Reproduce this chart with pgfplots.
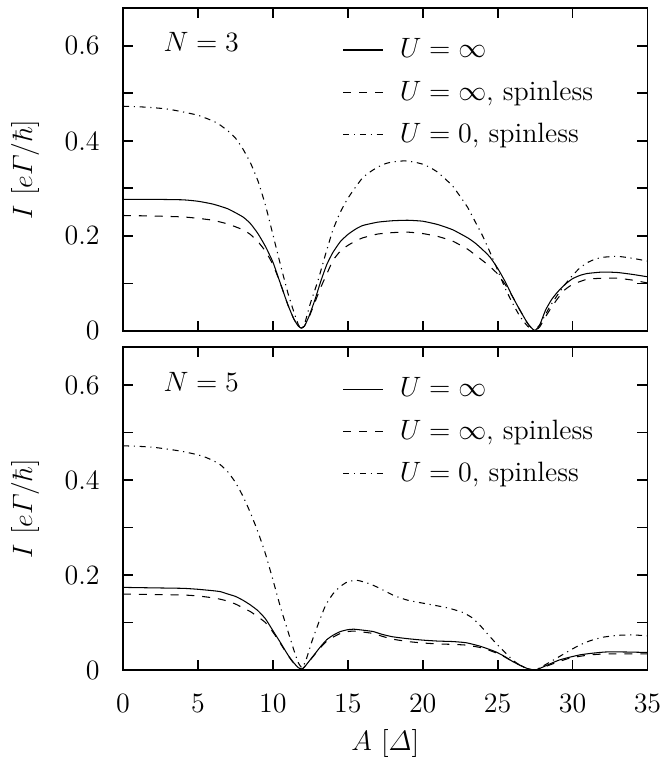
\documentclass[border=0pt]{standalone}
\usepackage{amsmath}
\usepackage{pgfplots}
\usepackage{pgfplotstable}
\pgfplotsset{compat=1.18}
\usepgfplotslibrary{groupplots}

% N = 3, U = infinity
\pgfplotstableread{
x y
0 0.277
2 0.277
4 0.276
5 0.273
6 0.267
7 0.257
8 0.240
8.5 0.226
9 0.205
9.5 0.178
10 0.145
10.5 0.100
11 0.055
11.4 0.025
11.7 0.010
11.9 0.006
12.1 0.010
12.4 0.030
12.8 0.065
13.2 0.105
13.6 0.140
14 0.165
14.5 0.188
15 0.203
15.5 0.214
16 0.222
17 0.229
18 0.232
19 0.233
20 0.231
21 0.224
22 0.213
23 0.196
23.5 0.185
24 0.171
24.5 0.155
25 0.132
25.5 0.104
26 0.072
26.5 0.043
27 0.016
27.3 0.005
27.5 0.001
27.8 0.012
28.2 0.044
28.6 0.066
29 0.082
29.5 0.098
30 0.110
30.5 0.117
31 0.121
32 0.124
33 0.123
34 0.119
35 0.114
}\topsolid

% N = 3, U = infinity, spinless
\pgfplotstableread{
x y
0 0.243
2 0.242
4 0.240
5 0.237
6 0.233
7 0.225
8 0.213
8.5 0.203
9 0.188
9.5 0.168
10 0.140
10.5 0.100
11 0.055
11.4 0.025
11.7 0.010
11.9 0.006
12.1 0.010
12.4 0.028
12.8 0.060
13.2 0.092
13.6 0.120
14 0.148
14.5 0.168
15 0.180
15.5 0.189
16 0.196
17 0.204
18 0.207
19 0.208
20 0.205
21 0.199
22 0.189
23 0.172
23.5 0.160
24 0.148
24.5 0.135
25 0.120
25.5 0.098
26 0.072
26.5 0.043
27 0.016
27.3 0.005
27.5 0.001
27.8 0.008
28.2 0.030
28.6 0.050
29 0.068
29.5 0.087
30 0.098
30.5 0.104
31 0.109
32 0.111
33 0.111
34 0.107
35 0.101
}\topdashed

% N = 3, U = 0, spinless
\pgfplotstableread{
x y
0 0.473
1 0.472
2 0.470
3 0.467
4 0.461
5 0.454
6 0.442
6.5 0.433
7 0.421
7.5 0.406
8 0.383
8.5 0.354
9 0.316
9.5 0.265
10 0.203
10.5 0.140
11 0.080
11.4 0.040
11.7 0.013
11.9 0.005
12.1 0.013
12.5 0.058
13 0.105
13.5 0.160
14 0.212
14.5 0.250
15 0.279
15.5 0.302
16 0.323
16.5 0.335
17 0.345
17.5 0.352
18 0.356
18.8 0.358
19.5 0.355
20 0.351
20.5 0.344
21 0.334
21.5 0.320
22 0.305
22.5 0.283
23 0.260
23.5 0.230
24 0.200
24.5 0.165
25 0.128
25.5 0.090
26 0.058
26.5 0.030
27 0.010
27.4 0.002
27.8 0.012
28.2 0.035
28.5 0.052
29 0.076
29.5 0.098
30 0.117
30.5 0.133
31 0.144
31.5 0.151
32 0.155
33 0.157
34 0.153
35 0.147
}\topdashdot

% N = 5, U = infinity
\pgfplotstableread{
x y
0 0.174
2 0.173
4 0.172
5 0.170
6 0.167
6.5 0.165
7 0.160
7.5 0.155
8 0.147
8.5 0.137
9 0.125
9.5 0.108
10 0.083
10.5 0.058
11 0.032
11.4 0.015
11.7 0.005
11.95 0.002
12.2 0.010
12.7 0.030
13.2 0.050
13.6 0.064
14 0.073
14.5 0.081
15 0.085
15.4 0.086
16 0.084
16.7 0.081
17.3 0.075
18 0.070
19 0.066
20 0.063
21 0.061
22 0.060
22.9 0.0575
23.8 0.0505
24.4 0.044
24.9 0.038
25.5 0.028
26 0.018
26.5 0.010
27 0.003
27.5 0.000
28 0.006
28.5 0.013
29.1 0.021
29.8 0.027
30.5 0.032
31.2 0.035
32.2 0.038
33.5 0.038
35 0.037
}\botsolid

% N = 5, U = infinity, spinless
\pgfplotstableread{
x y
0 0.160
2 0.159
4 0.158
5 0.156
6 0.152
6.5 0.149
7 0.145
7.5 0.139
8 0.131
8.5 0.123
9 0.112
9.5 0.100
10 0.080
10.5 0.056
11 0.031
11.4 0.014
11.7 0.005
11.95 0.002
12.2 0.010
12.7 0.029
13.2 0.048
13.6 0.061
14 0.069
14.5 0.077
15 0.081
15.4 0.082
16 0.080
16.7 0.077
17.3 0.071
18 0.065
19 0.060
20 0.057
21 0.055
22 0.054
22.9 0.0525
23.8 0.0477
24.4 0.042
24.9 0.036
25.5 0.027
26 0.018
26.5 0.010
27 0.003
27.5 0.000
28 0.005
28.5 0.011
29.1 0.018
29.8 0.025
30.5 0.029
31.2 0.032
32.2 0.034
33.5 0.034
35 0.034
}\botdashed

% N = 5, U = 0, spinless
\pgfplotstableread{
x y
0 0.472
1 0.471
2 0.469
3 0.465
4 0.460
5 0.453
5.5 0.448
6 0.441
6.5 0.432
7 0.417
7.5 0.395
8 0.366
8.5 0.331
9 0.291
9.5 0.245
10 0.190
10.5 0.133
11 0.082
11.4 0.042
11.7 0.015
11.95 0.005
12.2 0.020
12.6 0.060
13 0.095
13.5 0.135
14 0.160
14.5 0.176
15 0.186
15.6 0.189
16 0.186
16.5 0.181
17 0.174
17.5 0.166
18 0.158
18.5 0.152
19 0.147
19.8 0.142
20.5 0.138
21.5 0.132
22 0.128
22.7 0.121
23.3 0.110
23.8 0.095
24.3 0.077
24.9 0.056
25.5 0.037
26 0.021
26.5 0.010
27 0.003
27.5 0.000
28 0.008
28.5 0.017
29.1 0.028
29.8 0.041
30.5 0.053
31.2 0.062
32 0.069
33 0.073
34 0.074
35 0.072
}\botdashdot

\begin{document}
\begin{tikzpicture}[font=\fontsize{12}{14.4}\selectfont]
  \begin{groupplot}[
    group style={group size=1 by 2, vertical sep=6.9pt,
      xticklabels at=edge bottom, xlabels at=edge bottom},
    scale only axis,
    width=225pt, height=138.6pt,
    xmin=0, xmax=35, ymin=0, ymax=0.68,
    xtick={0,5,10,15,20,25,30,35},
    ytick={0,0.1,0.2,0.3,0.4,0.5,0.6},
    yticklabels={0,,0.2,,0.4,,0.6},
    tick align=inside, tick pos=both,
    major tick length=4.3pt,
    axis line style={line width=0.8pt},
    every tick/.style={line width=0.8pt, black},
    yticklabel style={xshift=-6.5pt},
    xticklabel style={yshift=-7pt},
    ylabel={$I$ [$e\varGamma/\hbar$]},
    ylabel style={at={(axis description cs:-0.1867,0.5)}, anchor=center},
    legend style={draw=none, fill=none, anchor=north west,
      at={(axis description cs:0.405,0.935)}, row sep=4.4pt},
    legend cell align=left,
    legend image code/.code={\draw[#1] (0pt,0pt) -- (17pt,0pt); \path (22pt,0pt);},
    every axis plot/.append style={line width=0.45pt, black, smooth, tension=0.3},
    solid line/.style={solid},
    dash line/.style={dash pattern=on 3.4pt off 3.4pt},
    dashdot line/.style={dash pattern=on 2.6pt off 2pt on 0.5pt off 2pt},
  ]
    \nextgroupplot
    \addplot[solid line] table {\topsolid};
    \addlegendentry{$U=\infty$}
    \addplot[dash line] table {\topdashed};
    \addlegendentry{$U=\infty$, spinless}
    \addplot[dashdot line] table {\topdashdot};
    \addlegendentry{$U=0$, spinless}
    \node[anchor=west, inner sep=0pt] at (axis cs:2.67,0.609) {$N=3$};

    \nextgroupplot[xlabel={$A$ [$\varDelta$]},
      xlabel style={at={(axis description cs:0.5,-0.226)}, anchor=center}]
    \addplot[solid line] table {\botsolid};
    \addlegendentry{$U=\infty$}
    \addplot[dash line] table {\botdashed};
    \addlegendentry{$U=\infty$, spinless}
    \addplot[dashdot line] table {\botdashdot};
    \addlegendentry{$U=0$, spinless}
    \node[anchor=west, inner sep=0pt] at (axis cs:2.67,0.607) {$N=5$};
  \end{groupplot}
  \path (group c1r1.north west) ++(-52.8pt,3.4pt);
  \path (group c1r2.south east) ++(5.6pt,-41.6pt);
\end{tikzpicture}
\end{document}
